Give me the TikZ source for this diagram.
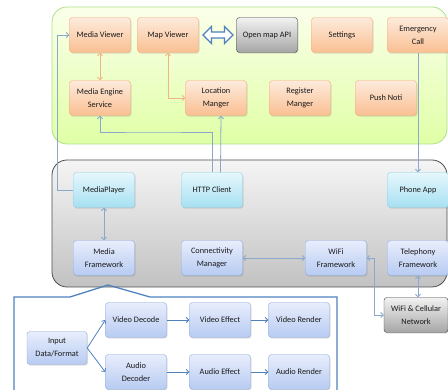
\documentclass[tikz,border=0pt]{standalone}
\usepackage{fontspec}
\setmainfont{Carlito}
\usetikzlibrary{shapes.arrows, arrows.meta, shadows}
\definecolor{appline}{HTML}{F5AB78}
\definecolor{apptop}{HTML}{FDEBDC}
\definecolor{appbot}{HTML}{FABF92}
\definecolor{svcline}{HTML}{8FCFE2}
\definecolor{svctop}{HTML}{E6F7FC}
\definecolor{svcbot}{HTML}{A6E0F2}
\definecolor{fwline}{HTML}{8EAADB}
\definecolor{fwtop}{HTML}{E8EEFC}
\definecolor{fwbot}{HTML}{B7CBF2}
\definecolor{linkblue}{HTML}{8AA8CC}
\definecolor{mediablue}{HTML}{4F81BD}
\definecolor{linkorange}{HTML}{F2B486}
\tikzset{
  font=\fontsize{8.3}{13}\selectfont,     % small narrow text everywhere
  box/.style       = {rectangle, rounded corners=3pt, minimum width=61pt,
                      minimum height=35pt, inner sep=1pt, align=center,
                      text=black!90,
                      drop shadow={opacity=0.25, shadow xshift=1pt, shadow yshift=-1.2pt}},
  appbox/.style    = {box, draw=appline, top color=apptop, bottom color=appbot},
  svcbox/.style    = {box, draw=svcline, top color=svctop, bottom color=svcbot},
  fwbox/.style     = {box, draw=fwline, top color=fwtop, bottom color=fwbot},
  extbox/.style    = {box, draw=black!75, top color=black!5, bottom color=black!35},
  link/.style      = {<->, >={Straight Barb[length=2.5pt,width=5pt]}, linkblue, line width=0.8pt},
  onelink/.style   = {link, <-},
  applink/.style   = {link, linkorange},
  medialink/.style = {->, >={Straight Barb[length=2.5pt,width=5pt]}, mediablue, line width=0.8pt}
}

\begin{document}
\begin{tikzpicture}[x=1pt, y=-1pt]
  \useasboundingbox (0,0) rectangle (448,390);
  % layers
  \draw[draw=green!45!olive!45, line width=0.8pt, rounded corners=15pt,
        top color=green!20!yellow!8, bottom color=green!35!yellow!35]
        (52,7) rectangle (447,144);
  \draw[draw=black!70, line width=0.8pt, rounded corners=15pt,
        top color=black!4, bottom color=black!24]
        (52,160) rectangle (447,287);
  \draw[mediablue, line width=1.3pt]
        (14,395) -- (14,297) -- (70,297) -- (108,285) -- (150,297) -- (337,297) -- (337,395);

  % applications
  \node[appbox] (mediaviewer) at (100,35) {Media Viewer};
  \node[appbox] (mapviewer)   at (168,35) {Map Viewer};
  \node[extbox] (openmap)     at (267,35) {Open map API};
  \node[appbox] (settings)    at (342,35) {Settings};
  \node[appbox] (emergency)   at (418,35) {Emergency\\Call};
  \node[appbox] (mediaengine) at (100,98) {Media Engine\\Service};
  \node[appbox] (locmgr)      at (216,98) {Location\\Manger};
  \node[appbox] (regmgr)      at (300,98) {Register\\Manger};
  \node[appbox] (pushnoti)    at (386,98) {Push Noti};
  \node[double arrow, draw=mediablue, fill=white, line width=1.2pt,
        minimum height=30pt, minimum width=17pt, inner sep=1pt,
        double arrow head extend=3pt] (apiarrow) at (218,35) {};

  % framework
  \node[svcbox] (mediaplayer) at (104,190) {MediaPlayer};
  \node[svcbox] (httpclient)  at (212,190) {HTTP Client};
  \node[svcbox] (phoneapp)    at (418,190) {Phone App};
  \node[fwbox]  (mediafw)     at (104,258) {Media\\Framework};
  \node[fwbox]  (connmgr)     at (212,258) {Connectivity\\Manager};
  \node[fwbox]  (wififw)      at (336,258) {WiFi\\Framework};
  \node[fwbox]  (telfw)       at (418,258) {Telephony\\Framework};
  \node[extbox, minimum width=64pt] (network) at (416,315) {WiFi \& Cellular\\Network};

  % media pipeline
  \node[fwbox, minimum width=60pt, minimum height=33pt] (input) at (57,348) {Input\\Data/Format};
  \node[fwbox] (videodec)    at (136,320) {Video Decode};
  \node[fwbox] (audiodec)    at (136,372) {Audio\\Decoder};
  \node[fwbox] (videoeffect) at (220,320) {Video Effect};
  \node[fwbox] (audioeffect) at (220,372) {Audio Effect};
  \node[fwbox] (videorender) at (299,320) {Video Render};
  \node[fwbox] (audiorender) at (299,372) {Audio Render};

  % links
  \coordinate (httpturn) at (150,132);
  \draw[applink] (mediaviewer) -- (mediaengine);
  \draw[applink] (mapviewer.south) |- (locmgr.west);
  \draw[onelink] (mediaengine.south) |- (httpturn) -| (httpclient.north);
  \draw[onelink] (locmgr.south -| 221,0) -- ([xshift=8.5pt]httpclient.north);
  \draw[onelink] (mediaviewer.west) -- ++(-12,0) |- (mediaplayer.west);
  \draw[onelink] (phoneapp.north) -- (emergency.south);
  \draw[link] (mediaplayer) -- (mediafw);
  \draw[link] (connmgr) -- (wififw);
  \draw[link] (wififw.east) -- ++(8,0) |- (network.west);
  \draw[link] (telfw.south) -- (telfw.south |- network.north);

  \draw[medialink] (input.east) -- (videodec.west);
  \draw[medialink] (input.east) -- (audiodec.west);
  \draw[medialink] (videodec) -- (videoeffect);
  \draw[medialink] (videoeffect) -- (videorender);
  \draw[medialink] (audiodec) -- (audioeffect);
  \draw[medialink] (audioeffect) -- (audiorender);
\end{tikzpicture}
\end{document}
